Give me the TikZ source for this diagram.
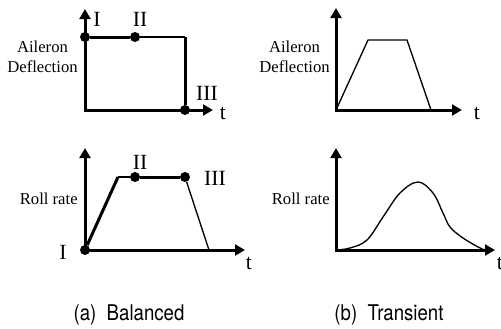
\documentclass[tikz,border=0pt]{standalone}
\usepackage{fontspec}
\setmainfont{Liberation Serif}
\newfontfamily\capfont[FakeStretch=0.86]{TeX Gyre Heros}
\usetikzlibrary{arrows.meta}

\tikzset{
  axis/.style={line width=1.8pt,{Triangle[length=6pt,width=6.5pt]}-{Triangle[length=6pt,width=6.5pt]}},
  heavy/.style={line width=1.8pt},
  light/.style={line width=0.8pt},
  dot/.style={circle,fill,inner sep=0pt,minimum size=6pt},
  roman/.style={font=\fontsize{13}{15}\selectfont,inner sep=0pt},
  ylabel/.style={font=\fontsize{10}{12}\selectfont,align=center,inner sep=0pt,anchor=east},
  caption/.style={font=\capfont\fontsize{13}{15}\selectfont,inner sep=0pt}
}

\begin{document}
\begin{tikzpicture}[x=0.6pt,y=-0.6pt]
	\useasboundingbox (0,0) rectangle (501,328);

	% balanced, deflection
	\coordinate (o1) at (85,110);
	\coordinate (y1) at (85,9);
	\coordinate (x1) at (213,110);
	\draw[axis] (y1) -- (o1) -- (x1);
	\node[dot] (d1) at (85,37) {};
	\node[dot] (d2) at (135,37) {};
	\coordinate (c1) at (185,37);
	\node[dot] (d3) at (185,110) {};
	\draw[heavy] (d1) -- (d2);
	\draw[light] (d2) -- (c1);
	\draw[heavy] (c1) -- (d3);
	\node[roman] (n1) at (97,19) {I};
	\node[roman] (n2) at (140,19) {II};
	\node[roman] (n3) at (207,93) {III};
	\node[roman] (t1) at (223,113) {t};
	\node[ylabel] (l1) at (78,57) {Aileron\\Deflection};

	% transient, deflection
	\coordinate (o2) at (336,110);
	\coordinate (y2) at (336,8);
	\coordinate (x2) at (462,110);
	\draw[axis] (y2) -- (o2) -- (x2);
	\coordinate (p1) at (368,40);
	\coordinate (p2) at (407,40);
	\coordinate (p3) at (431,110);
	\draw[light] (o2) -- (p1) -- (p2) -- (p3);
	\node[roman] (t2) at (477,113) {t};
	\node[ylabel] (l2) at (330,57) {Aileron\\Deflection};

	% balanced, roll rate
	\coordinate (o3) at (85,250);
	\coordinate (y3) at (85,148);
	\coordinate (x3) at (245,250);
	\draw[axis] (y3) -- (o3) -- (x3);
	\node[dot] (r1) at (85,250) {};
	\coordinate (c2) at (118,177);
	\node[dot] (r2) at (135,177) {};
	\node[dot] (r3) at (185,177) {};
	\coordinate (c3) at (209,250);
	\draw[heavy] (r1) -- (c2);
	\draw[light] (c2) -- (r2);
	\draw[heavy] (r2) -- (r3);
	\draw[light] (r3) -- (c3);
	\node[roman] (m1) at (63,252) {I};
	\node[roman] (m2) at (140,162) {II};
	\node[roman] (m3) at (215,178) {III};
	\node[roman] (t3) at (249,263) {t};
	\node[ylabel] (l3) at (78,199) {Roll rate};

	% transient, roll rate
	\coordinate (o4) at (336,250);
	\coordinate (y4) at (336,148);
	\coordinate (x4) at (495,250);
	\draw[axis] (y4) -- (o4) -- (x4);
	\draw[light] plot[smooth,tension=0.6] coordinates {(336,250) (350,248) (367,240) (383,217) (400,193) (418,182) (433,193) (443,213) (450,227) (463,238) (480,248) (486,250)};
	\node[roman] (t4) at (500,263) {t};
	\node[ylabel] (l4) at (330,199) {Roll rate};

	% captions
	\node[caption] (ca) at (129,315) {(a)~~Balanced};
	\node[caption] (cb) at (389,315) {(b)~~Transient};
\end{tikzpicture}
\end{document}
